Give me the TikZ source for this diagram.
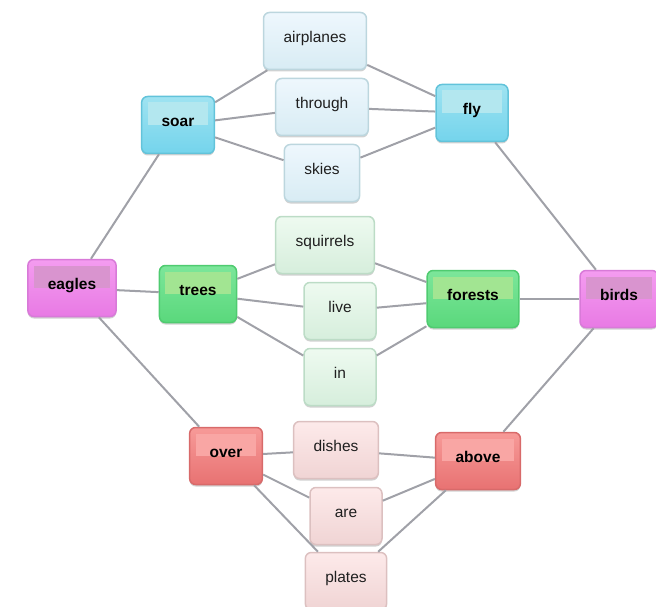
\documentclass[tikz,border=0pt]{standalone}
\usepackage{fontspec}
\setmainfont{Liberation Sans}
\usetikzlibrary{shadows}

\definecolor{linkgray}{HTML}{A0A1A8}
\definecolor{cyantop}{HTML}{9FE3F1}
\definecolor{cyanbot}{HTML}{74D4EC}
\definecolor{cyanband}{HTML}{B3E7EF}
\definecolor{cyanline}{HTML}{62C3DA}
\definecolor{magtop}{HTML}{F49CF0}
\definecolor{magbot}{HTML}{E87AE4}
\definecolor{magband}{HTML}{D994CF}
\definecolor{magline}{HTML}{D87AD8}
\definecolor{greentop}{HTML}{7CE69A}
\definecolor{greenbot}{HTML}{5AD87C}
\definecolor{greenband}{HTML}{A2E592}
\definecolor{greenline}{HTML}{4FCB70}
\definecolor{redtop}{HTML}{F79A98}
\definecolor{redbot}{HTML}{E87272}
\definecolor{redband}{HTML}{F9A6A4}
\definecolor{redline}{HTML}{D86A6A}
\definecolor{ltbluetop}{HTML}{EEF7FD}
\definecolor{ltbluebot}{HTML}{D8ECF4}
\definecolor{ltblueline}{HTML}{BCD6DE}
\definecolor{ltgreentop}{HTML}{EEFAF0}
\definecolor{ltgreenbot}{HTML}{D6EEDC}
\definecolor{ltgreenline}{HTML}{BCDCC6}
\definecolor{ltpinktop}{HTML}{FDEAEA}
\definecolor{ltpinkbot}{HTML}{F0D4D4}
\definecolor{ltpinkline}{HTML}{DCC0C0}

\begin{document}
\begin{tikzpicture}[
			x=1pt, y=-1pt,
			box/.style={draw, rounded corners=6pt, minimum width=72pt, minimum height=57pt,
				inner xsep=20pt, text height=11.5pt, text depth=9pt, line width=1.5pt,
				drop shadow={shadow xshift=0pt, shadow yshift=-2pt, opacity=0.18, fill=black}},
			wordbox/.style={box, font=\fontsize{15.5}{18}\selectfont, text=black!88,
				draw=#1line, top color=#1top, bottom color=#1bot},
			keybox/.style={box, font=\fontsize{15.5}{18}\selectfont\bfseries,
				draw=#1line, top color=#1top, bottom color=#1bot,
				path picture={\fill[#1band, sharp corners] ([xshift=6pt,yshift=-6pt]path picture bounding box.north west)
					rectangle ([xshift=-6pt]path picture bounding box.east);}},
			link/.style={draw=linkgray, line width=2pt}
			]
			
			\clip (0,0) rectangle (656,607);
			
			% Nodes
			\node (eagles) [keybox=mag] at (72,288) {eagles};
			\node (soar) [keybox=cyan] at (178,125) {soar};
			\node (trees) [keybox=green] at (198,294) {trees};
			\node (over) [keybox=red] at (226,456) {over};
			\node (fly) [keybox=cyan] at (472,113) {fly};
			\node (forests) [keybox=green] at (473,299) {forests};
			\node (above) [keybox=red] at (478,461) {above};
			\node (birds) [keybox=mag] at (619,299) {birds};
			
			\node (airplanes) [wordbox=ltblue] at (315,41) {airplanes};
			\node (through) [wordbox=ltblue] at (322,107) {through};
			\node (skies) [wordbox=ltblue] at (322,173) {skies};
			\node (squirrels) [wordbox=ltgreen] at (325,245) {squirrels};
			\node (live) [wordbox=ltgreen] at (340,311) {live};
			\node (in) [wordbox=ltgreen] at (340,377) {in};
			\node (dishes) [wordbox=ltpink] at (336,450) {dishes};
			\node (are) [wordbox=ltpink] at (346,516) {are};
			\node (plates) [wordbox=ltpink] at (346,581) {plates};
			
			% Connections
			\draw [link] (eagles) -- (soar);
			\draw [link] (eagles) -- (trees);
			\draw [link] (eagles) -- (over);
			\draw [link] (soar) -- (airplanes);
			\draw [link] (soar) -- (through);
			\draw [link] (soar) -- (skies);
			\draw [link] (airplanes) -- (fly);
			\draw [link] (through) -- (fly);
			\draw [link] (skies) -- (fly);
			\draw [link] (trees) -- (squirrels);
			\draw [link] (trees) -- (live);
			\draw [link] (trees) -- (in);
			\draw [link] (squirrels) -- (forests);
			\draw [link] (live) -- (forests);
			\draw [link] (in) -- (forests);
			\draw [link] (over) -- (dishes);
			\draw [link] (over) -- (are);
			\draw [link] (over) -- (plates);
			\draw [link] (dishes) -- (above);
			\draw [link] (are) -- (above);
			\draw [link] (plates) -- (above);
			\draw [link] (fly) -- (birds);
			\draw [link] (forests) -- (birds);
			\draw [link] (above) -- (birds);
			
		\end{tikzpicture}
\end{document}
